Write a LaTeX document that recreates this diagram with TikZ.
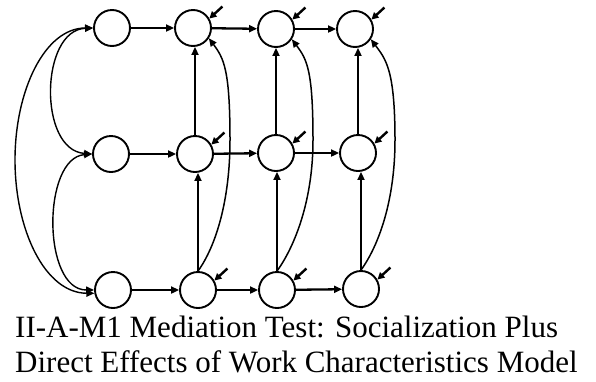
\documentclass[tikz,border=0pt]{standalone}
\usepackage{fontspec}
\setmainfont{Liberation Serif}
\usetikzlibrary{arrows.meta}
\begin{document}
\begin{tikzpicture}[x=1pt,y=-1pt,
  var/.style={circle,draw,line width=1.9pt,minimum size=36pt,inner sep=0pt},
  patharrow/.style={line width=2.3pt,-{Triangle[length=8pt,width=7pt]}},
  curvarrow/.style={line width=1.5pt,-{Triangle[length=8pt,width=7pt]}},
  corrarrow/.style={line width=1.4pt,{Triangle[length=8pt,width=7pt]}-{Triangle[length=8pt,width=7pt]}},
  distarrow/.style={line width=2.4pt,{Triangle[length=7pt,width=7pt]}-},
  captext/.style={anchor=base west,inner sep=0pt,font=\fontsize{31}{35}\selectfont}]
\useasboundingbox (0,0) rectangle (596,381);
% nodes
\node[var] (r11) at (112,28) {};
\node[var] (r12) at (193,28) {};
\node[var] (r13) at (276,29) {};
\node[var] (r14) at (355,29) {};
\node[var] (r21) at (111,154) {};
\node[var] (r22) at (195,154) {};
\node[var] (r23) at (276,153) {};
\node[var] (r24) at (358,153) {};
\node[var] (r31) at (113,290) {};
\node[var] (r32) at (198,290) {};
\node[var] (r33) at (277,290) {};
\node[var] (r34) at (361,289) {};
% horizontal paths
\foreach \r in {1,2,3}{
  \draw[patharrow] (r\r1) -- (r\r2);
  \draw[patharrow] (r\r2) -- (r\r3);
  \draw[patharrow] (r\r3) -- (r\r4);
}
% vertical paths
\foreach \c in {2,3,4}{
  \draw[patharrow] (r2\c.north) -- (r2\c.north |- r1\c.south);
  \draw[patharrow] (r3\c.north) -- (r3\c.north |- r2\c.south);
}
% long curves bottom to top
\foreach \c/\mx in {2/230,3/313,4/395}{
  \draw[curvarrow] (r3\c.north) .. controls +(18,-25) and (\mx,200) .. (\mx,140)
     .. controls (\mx,70) and +(15,20) .. (r1\c.-33);
}
% correlations on the left
\draw[corrarrow] (r11.west) .. controls (40,30) and (38,150) .. (r21.west);
\draw[corrarrow] (r21.west) .. controls (42,158) and (42,290) .. (r31.west);
\draw[corrarrow] (r11.west) .. controls (45,28) and (15,90) .. (15,160)
   .. controls (15,230) and (45,293) .. (r31.190);
% disturbances
\foreach \r in {1,2,3}{
  \foreach \c in {2,3,4}{
    \draw[distarrow] (r\r\c.30) -- ++(13,-12);
  }
}
% caption
\node[captext] (t1) at (15,337) {II-A-M1 Mediation Test: Socialization Plus};
\node[captext] (t2) at (15,372) {Direct Effects of Work Characteristics Model};
\end{tikzpicture}
\end{document}
